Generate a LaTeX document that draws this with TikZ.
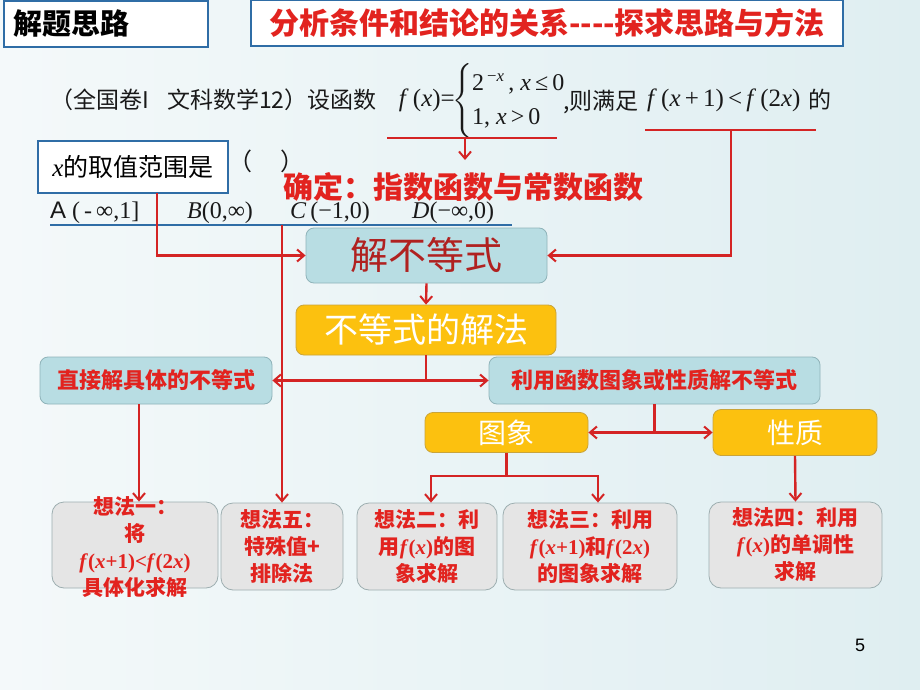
\documentclass[tikz,border=0pt]{standalone}
\usepackage{fix-cm}
\usepackage{amsmath}
\usepackage{fontspec}
\newfontfamily\cjk{Noto Sans CJK SC}
\newfontfamily\tms{Liberation Serif}
\newfontfamily\arl{Liberation Sans}
\newcommand{\vi}[1]{\textit{#1}}
\usetikzlibrary{arrows.meta}

\definecolor{linered}{HTML}{D42424}
\definecolor{titlered}{HTML}{E2231F}
\definecolor{darkred}{HTML}{B02120}
\definecolor{framblue}{HTML}{2F6DA6}
\definecolor{tealfill}{HTML}{B8DDE3}
\definecolor{tealdraw}{HTML}{8FB3B9}
\definecolor{ambfill}{HTML}{FCC10F}
\definecolor{ambdraw}{HTML}{C9A43A}
\definecolor{ideafill}{HTML}{E5E5E5}
\definecolor{ideadraw}{HTML}{9DAEB0}
\definecolor{bgA}{HTML}{F4F9FA}
\definecolor{bgB}{HTML}{DFEEF1}

\tikzset{
  line/.style={draw=linered, line width=2.4pt},
  arr/.style={line, -{Straight Barb[length=7pt,width=12pt,line width=2pt]}},
  darr/.style={line, {Straight Barb[length=7pt,width=12pt,line width=2pt]}-{Straight Barb[length=7pt,width=12pt,line width=2pt]}},
  bluebox/.style={draw=framblue, line width=2.2pt, fill=white, inner sep=0pt},
  tealbox/.style={draw=tealdraw, line width=0.8pt, fill=tealfill, rounded corners=8pt, inner sep=0pt},
  ambbox/.style={draw=ambdraw, line width=0.8pt, fill=ambfill, rounded corners=8pt, inner sep=0pt, text=white},
  ideabox/.style={draw=ideadraw, line width=0.8pt, fill=ideafill, rounded corners=12pt, inner sep=0pt},
  qtext/.style={inner sep=0pt, text=black!90, font=\cjk\fontsize{23}{26}\selectfont},
  formula/.style={inner sep=0pt, text=black!90, font=\tms\fontsize{24}{26}\selectfont},
  ideatext/.style={inner sep=0pt, align=center, text=titlered, font=\cjk\bfseries\fontsize{21}{27}\selectfont},
}

\begin{document}
\begin{tikzpicture}[x=1pt,y=-1pt]
  \shade[left color=bgA, right color=bgB] (0,0) rectangle (920,690);
  \useasboundingbox (0,0) rectangle (920,690);

  % headings
  \node[bluebox, anchor=north west, minimum width=204, minimum height=45,
        text width=186, align=left, inner sep=9pt,
        font=\cjk\bfseries\fontsize{29}{32}\selectfont] (hdr) at (3,0) {解题思路};
  \node[bluebox, minimum width=592, minimum height=46, text=titlered,
        font=\cjk\bfseries\fontsize{30}{32}\selectfont] (title) at (547,23)
        {分析条件和结论的关系----探求思路与方法};

  % the problem
  \node[qtext, anchor=west] (q1) at (50,100) {（全国卷I};
  \node[qtext, anchor=west] (q2) at (167,100) {文科数学12）设函数};
  \node[formula, anchor=east, font=\tms\fontsize{25}{26}\selectfont] (fx) at (455,100) {\vi{f}\,(\vi{x})=};
  \node[anchor=west, inner sep=0pt, text=black!90, font=\tms\fontsize{24}{26}\selectfont] (pw) at (452,101)
    {$\begin{cases} \text{2\textsuperscript{\,−\vi{x}}\,, \vi{x}\,≤\,0}\\[3pt] \text{1, \vi{x}\,>\,0}\end{cases}$};
  \node[qtext, anchor=west] (q3) at (563,102) {,则满足};
  \node[formula, anchor=west, font=\tms\fontsize{25}{26}\selectfont] (ineq) at (647,100)
    {\vi{f}\,(\vi{x}\,+\,1)\,<\,\vi{f}\,(2\vi{x})};
  \node[qtext, anchor=west] (de) at (808,100) {的};

  \node[bluebox, minimum width=190, minimum height=52,
        font=\cjk\fontsize{25}{28}\selectfont] (xbox) at (133,167) {{\tms\vi{x}}的取值范围是};
  \node[qtext, anchor=west, font=\cjk\fontsize{24}{28}\selectfont] (blank) at (228,161) {（\quad\,）};
  \node[inner sep=0pt, text=titlered, font=\cjk\bfseries\fontsize{30}{32}\selectfont] (fix) at (463,187)
    {确定：指数函数与常数函数};

  % the choices
  \node[formula, anchor=west] (optA) at (50,213) {{\arl A}\ (\,-\,∞,1]};
  \node[formula, anchor=west] (optB) at (187,213) {\vi{B}(0,∞)};
  \node[formula, anchor=west] (optC) at (290,213) {\vi{C}\,(−1,0)};
  \node[formula, anchor=west] (optD) at (412,213) {\vi{D}(−∞,0)};
  \coordinate (ou1) at (50,225);
  \coordinate (ou2) at (512,225);
  \draw[draw=framblue, line width=2.2pt] (ou1) -- (ou2);

  % boxes
  \node[tealbox, minimum width=241, minimum height=55, text=darkred,
        font=\cjk\fontsize{38}{40}\selectfont] (solve) at (426.5,255.5) {解不等式};
  \node[ambbox, minimum width=260, minimum height=50,
        font=\cjk\fontsize{34}{36}\selectfont] (method) at (426,330) {不等式的解法};
  \node[tealbox, minimum width=232, minimum height=47, text=titlered,
        font=\cjk\bfseries\fontsize{22}{24}\selectfont] (direct) at (156,380.5) {直接解具体的不等式};
  \node[tealbox, minimum width=331, minimum height=47, text=titlered,
        font=\cjk\bfseries\fontsize{22}{24}\selectfont] (usefn) at (654.5,380.5) {利用函数图象或性质解不等式};
  \node[ambbox, minimum width=163, minimum height=40,
        font=\cjk\fontsize{28}{30}\selectfont] (graph) at (506.5,432.5) {图象};
  \node[ambbox, minimum width=164, minimum height=46,
        font=\cjk\fontsize{28}{30}\selectfont] (prop) at (795,432.5) {性质};

  % ideas
  \node[ideabox, minimum width=166, minimum height=86] (idea1) at (135,545) {};
  \node[ideatext] (idea1t) at (135,547) {想法一：\\将\\{\tms\vi{f}(\vi{x}+1)<\vi{f}(2\vi{x})}\\具体化求解};
  \node[ideabox, minimum width=122, minimum height=87] (idea5) at (282,546.5) {};
  \node[ideatext] (idea5t) at (idea5) {想法五：\\特殊值+\\排除法};
  \node[ideabox, minimum width=140, minimum height=87] (idea2) at (427,546.5) {};
  \node[ideatext] (idea2t) at (idea2) {想法二：利\\用{\tms\vi{f}(\vi{x})}的图\\象求解};
  \node[ideabox, minimum width=174, minimum height=87] (idea3) at (590,546.5) {};
  \node[ideatext] (idea3t) at (idea3) {想法三：利用\\{\tms\vi{f}(\vi{x}+1)}和{\tms\vi{f}(2\vi{x})}\\的图象求解};
  \node[ideabox, minimum width=173, minimum height=86] (idea4) at (795.5,545) {};
  \node[ideatext] (idea4t) at (idea4) {想法四：利用\\{\tms\vi{f}(\vi{x})}的单调性\\求解};

  % connectors
  \coordinate (cu1) at (387,138);
  \coordinate (cu2) at (557,138);
  \coordinate (cu3) at (465,138);
  \draw[line] (cu1) -- (cu2);
  \draw[arr] (cu3) -- ++(0,22);

  \coordinate (iu1) at (645,130);
  \coordinate (iu2) at (816,130);
  \coordinate (iu3) at (731,130);
  \draw[line] (iu1) -- (iu2);
  \draw[arr] (iu3) |- (solve.east);

  \coordinate (la) at (157,193);
  \draw[arr] (la) |- (solve.west);
  \coordinate (lb) at (282,225);
  \draw[arr] (lb) -- (idea5.north);

  \draw[arr] (solve.south) -- (method.north);
  \draw[line] (method.south) -- (method.south |- direct.east);
  \draw[darr] (direct.east) -- (usefn.west);
  \draw[arr] ([xshift=-17pt]direct.south) -- ([xshift=-17pt]direct.south |- idea1.north);

  \draw[line] (usefn.south) -- (usefn.south |- graph.east);
  \draw[darr] (graph.east) -- (prop.west);
  \coordinate (gj) at ([yshift=-23pt]graph.south);
  \draw[line] (graph.south) -- (gj);
  \draw[arr] (gj) -| ([xshift=4pt]idea2.north);
  \draw[arr] (gj) -| ([xshift=8pt]idea3.north);
  \draw[arr] (prop.south) -- (idea4.north);

  \node[inner sep=0pt, font=\arl\fontsize{18}{20}\selectfont] (pageno) at (860,645) {5};
\end{tikzpicture}
\end{document}
